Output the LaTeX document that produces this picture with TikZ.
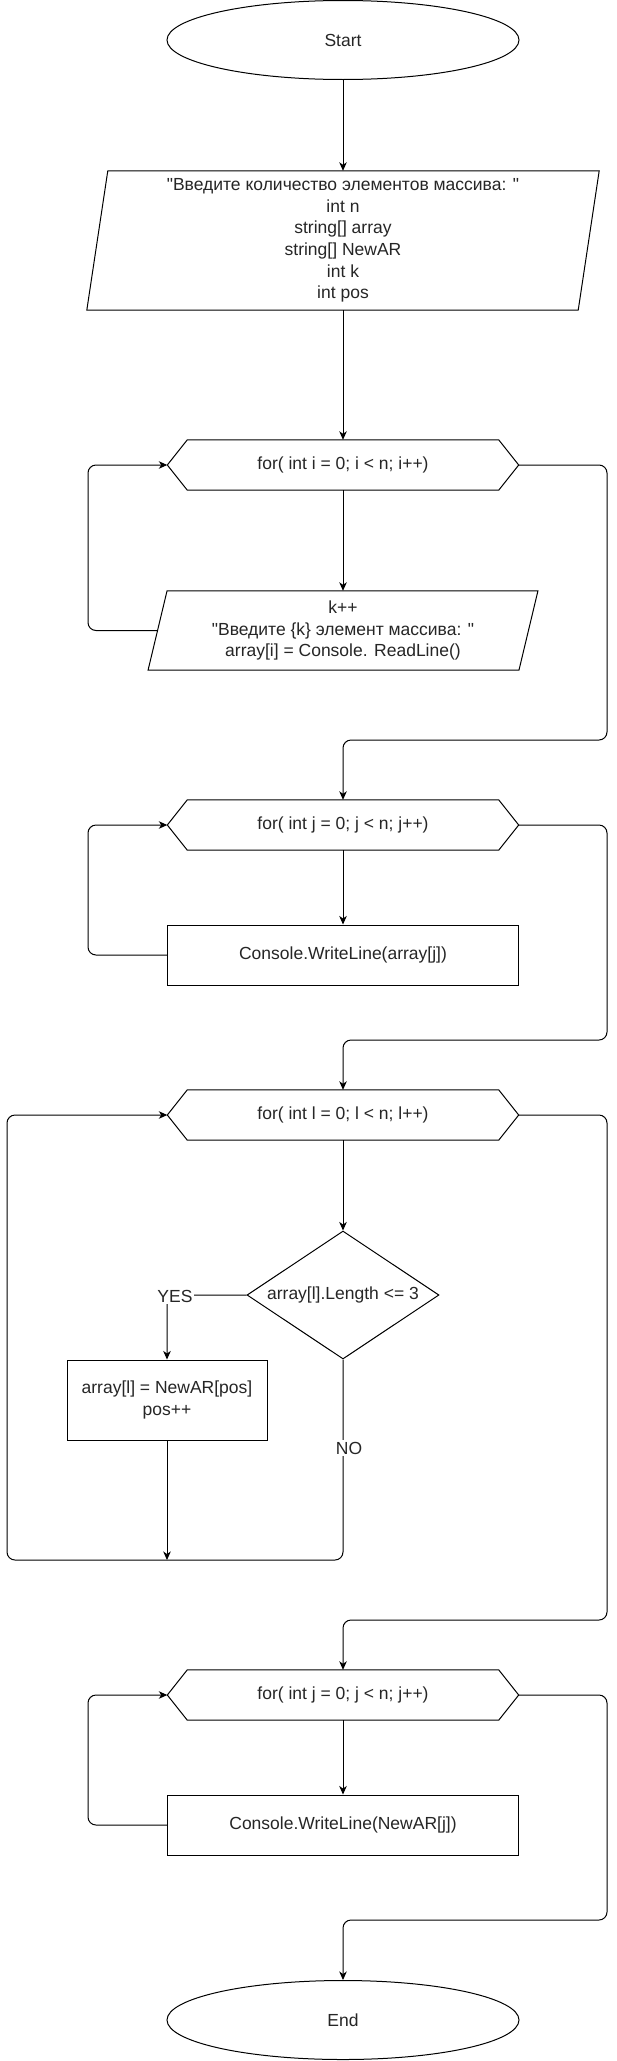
\documentclass[tikz,border=0pt]{standalone}
\usepackage{fontspec}
\setmainfont{Liberation Sans}[Ligatures=TeXOff]
\usetikzlibrary{arrows.meta,shapes.geometric,calc}
\newcommand\hexdraw[1]{\draw[outline] ([xshift=20pt]#1.north west) -- ([xshift=-20pt]#1.north east) -- (#1.east) -- ([xshift=-20pt]#1.south east) -- ([xshift=20pt]#1.south west) -- (#1.west) -- cycle;}
\newcommand\paradraw[2]{\draw[outline] ([xshift=#2]#1.north west) -- ([xshift=#2]#1.north east) -- ([xshift=-#2]#1.south east) -- ([xshift=-#2]#1.south west) -- cycle;}
\begin{document}
\begin{tikzpicture}[x=1pt,y=-1pt,
  every node/.style={font=\fontsize{17.5}{21.7}\selectfont, align=center, inner sep=0pt, text=black!85},
  outline/.style={draw, line width=1pt},
  conn/.style={draw, line width=1pt, rounded corners=8pt, -{Stealth[length=8.5pt,width=7.5pt,inset=2.5pt]}},
  term/.style={ellipse, draw, line width=1pt, minimum width=352pt, minimum height=79pt},
  hexnode/.style={rectangle, minimum width=351pt, minimum height=50pt},
  proc/.style={rectangle, draw, line width=1pt},
  lbl/.style={fill=white, inner sep=1.5pt}]
\useasboundingbox (0,0) rectangle (616,2061);
\fill[white] (0,0) rectangle (616,2061);

% helper coordinates
\coordinate (L) at (88,0);
\coordinate (LL) at (7,0);
\coordinate (R) at (607,0);
\coordinate (m1) at (343,740);
\coordinate (m2) at (343,1040);
\coordinate (m3) at (343,1620);
\coordinate (m4) at (343,1920);
\coordinate (bot) at (343,1560);

% nodes
\node[term] (start) at (343,40) {Start};
\node[minimum width=491pt, minimum height=139pt] (in) at (343,240.5)
  {"Введите количество элементов массива: "\\int n\\string[] array\\string[] NewAR\\int k\\int pos};
\paradraw{in}{10.5pt}

\node[hexnode] (h1) at (343,465) {for( int i = 0; i < n; i++)};
\hexdraw{h1}

\node[minimum width=370.5pt, minimum height=79pt] (b2) at (343,630.5)
  {k++\\"Введите \{k\} элемент массива: "\\array[i] = Console. ReadLine()};
\paradraw{b2}{9.5pt}

\node[hexnode] (h2) at (343,825) {for( int j = 0; j < n; j++)};
\hexdraw{h2}
\node[proc, minimum width=351pt, minimum height=60pt] (b3) at (343,955) {Console.WriteLine(array[j])};

\node[hexnode] (h3) at (343,1115) {for( int l = 0; l < n; l++)};
\hexdraw{h3}
\node[diamond, draw, line width=1pt, aspect=1.5, minimum width=192pt, minimum height=128pt] (d) at (343,1295) {array[l].Length <= 3};
\node[proc, minimum width=200pt, minimum height=80pt] (b4) at (167,1400) {array[l] = NewAR[pos]\\pos++};

\node[hexnode] (h4) at (343,1695) {for( int j = 0; j < n; j++)};
\hexdraw{h4}
\node[proc, minimum width=351pt, minimum height=60pt] (b5) at (343,1825) {Console.WriteLine(NewAR[j])};

\node[term] (end) at (343,2020) {End};

% connectors
\draw[conn] (start.south) -- (in.north);
\draw[conn] (in.south) -- (h1.north);
\draw[conn] (h1.south) -- (b2.north);
\draw[conn] (b2.west) -| (L |- h1.west) -- (h1.west);
\draw[conn] (h1.east) -| (R |- m1) -| (h2.north);

\draw[conn] (h2.south) -- (b3.north);
\draw[conn] (b3.west) -| (L |- h2.west) -- (h2.west);
\draw[conn] (h2.east) -| (R |- m2) -| (h3.north);

\draw[conn] (h3.south) -- (d.north);
\draw[conn] (d.west) -| (b4.north);
\node[lbl] (yes) at (175,1296) {YES};
\draw[conn] (b4.south) -- (b4.south |- bot);
\draw[conn] (d.south) -- (bot) -| (LL |- h3.west) -- (h3.west);
\node[lbl] (no) at (349,1448) {NO};
\draw[conn] (h3.east) -| (R |- m3) -| (h4.north);

\draw[conn] (h4.south) -- (b5.north);
\draw[conn] (b5.west) -| (L |- h4.west) -- (h4.west);
\draw[conn] (h4.east) -| (R |- m4) -| (end.north);
\end{tikzpicture}
\end{document}
